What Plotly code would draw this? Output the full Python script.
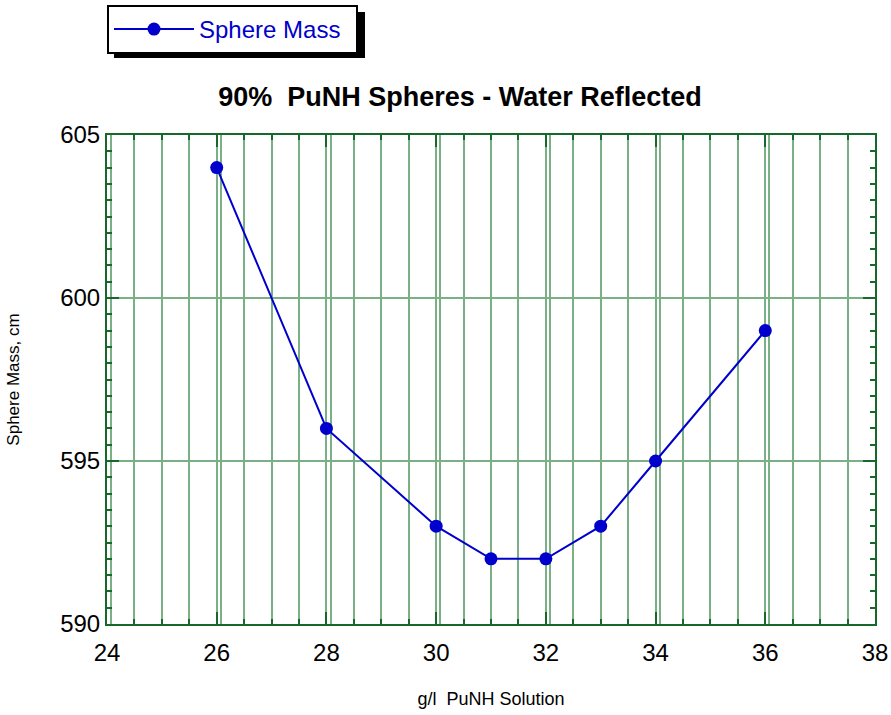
import plotly.graph_objects as go

# Critical sphere mass versus solution concentration
concentration = [26, 28, 30, 31, 32, 33, 34, 36]
sphere_mass = [604, 596, 593, 592, 592, 593, 595, 599]

x_ticks = [24, 26, 28, 30, 32, 34, 36, 38]
y_ticks = [590, 595, 600, 605]

W, H = 891, 715
ML, MR, MT, MB = 107, 16, 135, 91
PW, PH = W - ML - MR, H - MT - MB

FONT = "Arial, Liberation Sans, sans-serif"
AXIS_GREEN = "#17692a"
GRID_GREEN = "#7bb087"
BLUE = "#0000cc"


def px_x(p):
    return (p - ML) / PW


def px_y(p):
    return (H - MB - p) / PH


fig = go.Figure()
fig.add_trace(go.Scatter(
    x=concentration, y=sphere_mass, mode="lines+markers", name="Sphere Mass",
    line=dict(color=BLUE, width=2),
    marker=dict(color=BLUE, size=13),
))

axis_common = dict(
    showline=True, linecolor=AXIS_GREEN, linewidth=2, mirror="ticks",
    ticks="inside", ticklen=12, tickwidth=2, tickcolor=AXIS_GREEN,
    tickfont=dict(family=FONT, size=24, color="black"),
    zeroline=False,
)

fig.update_layout(
    width=W, height=H,
    margin=dict(l=ML, r=MR, t=MT, b=MB, autoexpand=False),
    paper_bgcolor="white", plot_bgcolor="white",
    font=dict(family=FONT, color="black"),
    title=dict(
        text="<b>90%  PuNH Spheres - Water Reflected</b>",
        font=dict(family=FONT, size=27, color="black"),
        x=px_x(460), xref="paper", xanchor="center",
        y=1 - 97 / H, yref="container", yanchor="middle",
    ),
    xaxis=dict(
        range=[24, 38], tickvals=x_ticks,
        showgrid=True, gridcolor=GRID_GREEN, gridwidth=2,
        minor=dict(dtick=0.5, ticks="inside", ticklen=5, tickwidth=2,
                   tickcolor=AXIS_GREEN, showgrid=True,
                   gridcolor=GRID_GREEN, gridwidth=2),
        ticklabelstandoff=6,
        title=dict(text="g/l  PuNH Solution",
                   font=dict(family=FONT, size=18, color="black"),
                   standoff=28),
        **axis_common,
    ),
    xaxis2=dict(
        overlaying="x", side="bottom",
        range=[24 - 0.075, 38 - 0.075], dtick=2,
        showgrid=True, gridcolor=GRID_GREEN, gridwidth=2,
        showticklabels=False, ticks="", showline=False, zeroline=False,
    ),
    yaxis=dict(
        range=[590, 605], tickvals=y_ticks,
        showgrid=True, gridcolor=GRID_GREEN, gridwidth=2,
        minor=dict(dtick=0.5, ticks="inside", ticklen=5, tickwidth=2,
                   tickcolor=AXIS_GREEN, showgrid=False),
        title=dict(text="Sphere Mass, cm",
                   font=dict(family=FONT, size=17, color="black"),
                   standoff=36),
        **axis_common,
    ),
    showlegend=True,
    legend=dict(
        orientation="h",
        x=0, xanchor="left", y=px_y(5), yanchor="top",
        bgcolor="white", bordercolor="black", borderwidth=2,
        font=dict(family=FONT, size=24, color=BLUE),
        itemwidth=80, entrywidth=152,
    ),
    shapes=[
        # drop shadow behind the legend box
        dict(type="rect", xref="paper", yref="paper",
             x0=px_x(114), x1=px_x(365), y0=px_y(58), y1=px_y(12),
             fillcolor="black", line=dict(width=0), layer="below"),
    ],
)

# empty trace so the offset grid axis is rendered
fig.add_trace(go.Scatter(x=[], y=[], xaxis="x2", showlegend=False,
                         hoverinfo="skip"))

fig.write_html("out.html")
